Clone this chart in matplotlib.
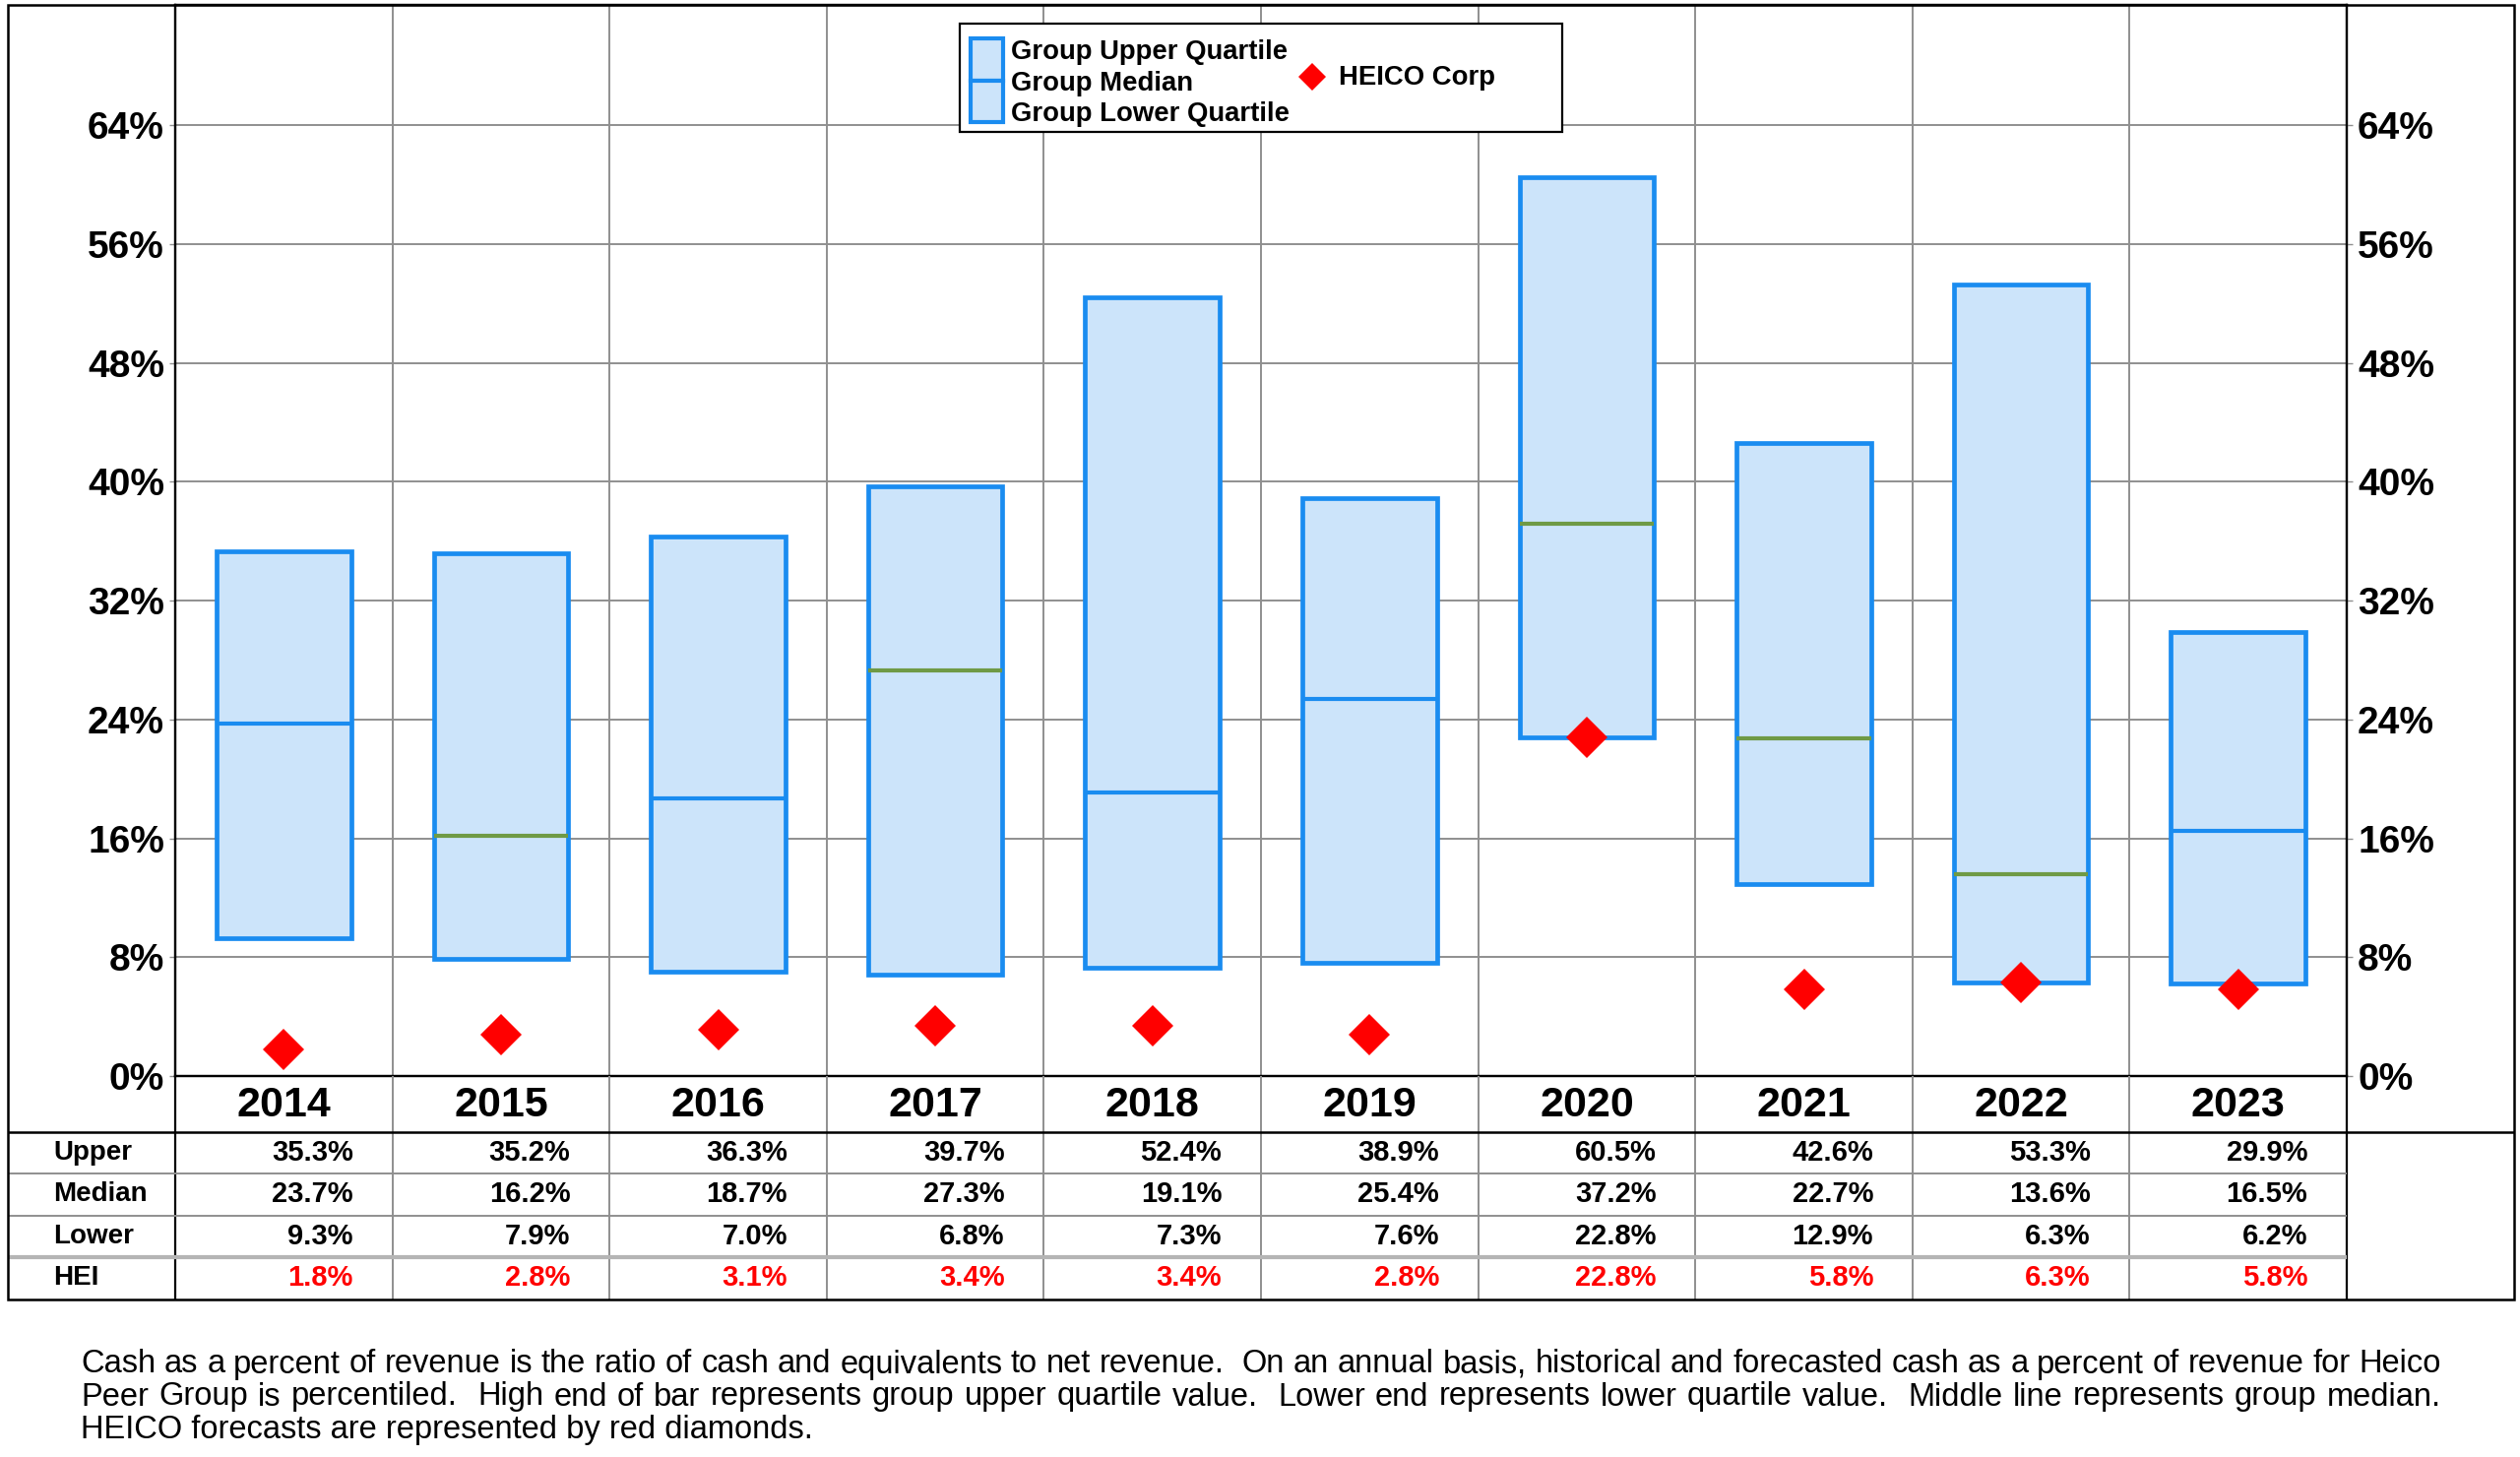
import numpy as np
import matplotlib

matplotlib.use("Agg")
import matplotlib.pyplot as plt
from matplotlib import font_manager
from matplotlib.lines import Line2D
from matplotlib.patches import Rectangle

YEARS = ["2014", "2015", "2016", "2017", "2018", "2019", "2020", "2021", "2022", "2023"]
UPPER = [35.3, 35.2, 36.3, 39.7, 52.4, 38.9, 60.5, 42.6, 53.3, 29.9]
MEDIAN = [23.7, 16.2, 18.7, 27.3, 19.1, 25.4, 37.2, 22.7, 13.6, 16.5]
LOWER = [9.3, 7.9, 7.0, 6.8, 7.3, 7.6, 22.8, 12.9, 6.3, 6.2]
HEICO = [1.8, 2.8, 3.1, 3.4, 3.4, 2.8, 22.8, 5.8, 6.3, 5.8]
ROW_LABELS = ["Upper", "Median", "Lower", "HEI"]
Y_TICKS = [0, 8, 16, 24, 32, 40, 48, 56, 64]
LEGEND_LABELS = ["Group Upper Quartile", "Group Median", "Group Lower Quartile"]
HEICO_LABEL = "HEICO Corp"
FOOTNOTE = [
    "Cash as a percent of revenue is the ratio of cash and equivalents to net revenue.  On an annual basis, "
    "historical and forecasted cash as a percent of revenue for Heico",
    "Peer Group is percentiled.  High end of bar represents group upper quartile value.  Lower end represents "
    "lower quartile value.  Middle line represents group median.",
    "HEICO forecasts are represented by red diamonds.",
]

# styles
BLUE = "#1a8cf0"
GREEN = "#6f9a45"
FILL = "#cce4fa"
GRID = "#8f8f8f"
RED = "#ff0000"
MEDIAN_COLORS = [BLUE, GREEN, BLUE, GREEN, BLUE, BLUE, GREEN, GREEN, GREEN, BLUE]


def pick_font(names):
    for name in names:
        try:
            font_manager.findfont(name, fallback_to_default=False)
            return name
        except ValueError:
            continue
    return "DejaVu Sans"


SANS = pick_font(["Liberation Sans", "Arial"])
NARROW = pick_font(["Liberation Sans Narrow", "Liberation Sans"])

W, H = 2560, 1480


def fx(px):
    return px / W


def fy(py):
    return 1 - py / H


# layout in pixels
PLOT_L, PLOT_R, PLOT_T, PLOT_B = 178, 2384, 5, 1093
FRAME_L, FRAME_R, TABLE_B = 8, 2554, 1320
ROW_EDGES = [1093, 1150, 1192, 1235, 1277, 1320]
YMAX = 72.1

n = len(YEARS)
cat_px = (PLOT_R - PLOT_L) / n
xs = np.arange(n)
upper = np.array(UPPER)
lower = np.array(LOWER)
bw = 0.62

fig = plt.figure(figsize=(25.6, 14.8), dpi=100)

ax = fig.add_axes([fx(PLOT_L), fy(PLOT_B), (PLOT_R - PLOT_L) / W, (PLOT_B - PLOT_T) / H])
ax.set_xlim(-0.5, n - 0.5)
ax.set_ylim(0, YMAX)
ax.set_xticks([])
ax.set_yticks(Y_TICKS)
ax.set_yticklabels([f"{v}%" for v in Y_TICKS], fontsize=28, fontweight="bold", family=SANS)
ax.tick_params(axis="y", direction="out", length=4, width=1, color=GRID, pad=4)
ax.yaxis.grid(True, color=GRID, linewidth=1.4)
ax.set_axisbelow(True)
for b in np.arange(0.5, n - 0.5):
    ax.axvline(b, color=GRID, linewidth=1.4, zorder=0.5)
for s in ax.spines.values():
    s.set_linewidth(1.6)

ax.bar(xs, upper - lower, bottom=lower, width=bw, color=FILL, edgecolor=BLUE, linewidth=3.4, zorder=2)
ax.hlines(MEDIAN, xs - bw / 2, xs + bw / 2, colors=MEDIAN_COLORS, linewidth=3.0, zorder=3)
ax.plot(xs, HEICO, linestyle="none", marker="D", markersize=21, color=RED, markeredgewidth=0,
        zorder=5, clip_on=False)

ax2 = ax.twinx()
ax2.set_ylim(0, YMAX)
ax2.set_yticks(Y_TICKS)
ax2.set_yticklabels([f"{v}%" for v in Y_TICKS], fontsize=28, fontweight="bold", family=SANS)
ax2.tick_params(axis="y", direction="out", length=4, width=1, color=GRID, pad=4)
for s in ax2.spines.values():
    s.set_linewidth(1.6)

# data table under the plot
tab = fig.add_axes([fx(FRAME_L), fy(TABLE_B), (FRAME_R - FRAME_L) / W, (TABLE_B - PLOT_B) / H])
xl = -0.5 - (PLOT_L - FRAME_L) / cat_px
xr = n - 0.5 + (FRAME_R - PLOT_R) / cat_px
tab.set_xlim(xl, xr)
tab.set_ylim(TABLE_B, PLOT_B)
tab.axis("off")

tab.vlines(np.arange(0.5, n - 0.5), PLOT_B, TABLE_B, colors=GRID, linewidth=1.4)
tab.vlines([-0.5, n - 0.5], PLOT_B, TABLE_B, colors="black", linewidth=1.6)
tab.hlines(ROW_EDGES[1], xl, xr, colors="black", linewidth=1.8)
tab.hlines(ROW_EDGES[2:4], xl, n - 0.5, colors=GRID, linewidth=1.4)
tab.hlines(ROW_EDGES[4], xl, n - 0.5, colors="#b5b5b5", linewidth=3)

header_mid = (ROW_EDGES[0] + ROW_EDGES[1]) / 2
for i, yr in enumerate(YEARS):
    tab.text(i, header_mid + 2, yr, ha="center", va="center", fontsize=31, fontweight="bold", family=NARROW)

rows = [UPPER, MEDIAN, LOWER, HEICO]
for r, (label, vals) in enumerate(zip(ROW_LABELS, rows)):
    mid = (ROW_EDGES[r + 1] + ROW_EDGES[r + 2]) / 2
    tab.text(xl + (54 - FRAME_L) / cat_px, mid, label, ha="left", va="center",
             fontsize=20, fontweight="bold", family=SANS)
    color = RED if label == "HEI" else "black"
    for i, v in enumerate(vals):
        tab.text(i + 0.32, mid, f"{v:.1f}%", ha="right", va="center",
                 fontsize=21, fontweight="bold", family=SANS, color=color)

# outer frame
fig.add_artist(Rectangle((fx(FRAME_L), fy(TABLE_B)), (FRAME_R - FRAME_L) / W, (TABLE_B - PLOT_T) / H,
                         transform=fig.transFigure, fill=False, edgecolor="black", linewidth=1.8))

# legend
fig.add_artist(Rectangle((fx(975), fy(134)), (1587 - 975) / W, (134 - 24) / H, transform=fig.transFigure,
                         facecolor="white", edgecolor="black", linewidth=1.6, zorder=3))
for top, bot in [(39, 82), (82, 124)]:
    fig.add_artist(Rectangle((fx(986), fy(bot)), (1019 - 986) / W, (bot - top) / H, transform=fig.transFigure,
                             facecolor=FILL, edgecolor=BLUE, linewidth=3.0, zorder=4))
for label, py in zip(LEGEND_LABELS, [53, 85, 116]):
    fig.text(fx(1027), fy(py), label, ha="left", va="center", fontsize=19.8, fontweight="bold",
             family=SANS, zorder=5)
fig.add_artist(Line2D([fx(1333)], [fy(78)], transform=fig.transFigure, linestyle="none", marker="D",
                      markersize=14, color=RED, markeredgewidth=0, zorder=5))
fig.text(fx(1360), fy(79), HEICO_LABEL, ha="left", va="center", fontsize=19.8, fontweight="bold",
         family=SANS, zorder=5)

# footnote, first two lines justified
renderer = fig.canvas.get_renderer()
FOOT_X0, FOOT_X1 = 82, 2480
for k, (line, py) in enumerate(zip(FOOTNOTE, [1386, 1419, 1453])):
    kw = dict(fontsize=23.5, family=SANS, va="center", ha="left")
    if k == len(FOOTNOTE) - 1:
        fig.text(fx(FOOT_X0), fy(py), line, **kw)
        continue
    words = line.split()
    texts = [fig.text(0, fy(py), w, **kw) for w in words]
    widths = [t.get_window_extent(renderer).width for t in texts]
    weights = [2.0 if w.endswith(".") else 1.0 for w in words[:-1]]
    gap = (FOOT_X1 - FOOT_X0 - sum(widths)) / sum(weights)
    xpos = FOOT_X0
    for t, wd, wt in zip(texts, widths, weights + [0]):
        t.set_x(fx(xpos))
        xpos += wd + gap * wt

fig.savefig("out.png", dpi=100, facecolor="white")
